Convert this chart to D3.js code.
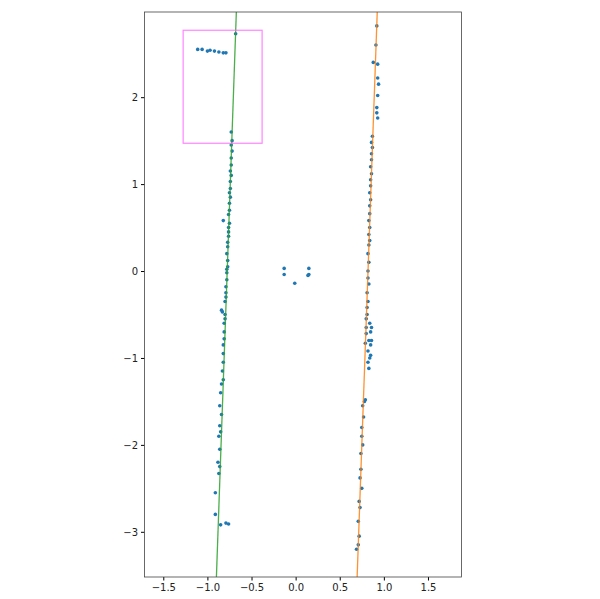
<!DOCTYPE html>
<html>
<head>
<meta charset="utf-8">
<script src="https://cdn.jsdelivr.net/npm/d3@7"></script>
<style>body{margin:0;background:#fff}text{font-family:"DejaVu Sans";font-size:10px;fill:#222}</style>
</head>
<body>
<svg id="chart" width="600" height="599"></svg>
<script>
// scatter points (x, y)
var leftX = [-1.11,-1.06,-1.00,-0.97,-0.92,-0.87,-0.82,-0.79,-0.68,
  -0.73,-0.72,-0.73,-0.72,-0.73,-0.73,-0.74,-0.73,-0.74,-0.74,-0.75,-0.74,-0.75,-0.75,-0.76,-0.82,-0.75,-0.76,-0.76,-0.76,-0.77,-0.77,-0.78,-0.77,-0.77,-0.78,-0.78,-0.78,-0.79,-0.79,-0.79,-0.84,-0.83,-0.80,-0.80,-0.80,-0.81,-0.81,-0.81,-0.82,-0.82,-0.82,-0.83,-0.82,-0.84,-0.85,-0.86,-0.84,-0.86,-0.85,-0.87,-0.86,-0.88,-0.86,-0.87,-0.91,-0.91,-0.85,-0.79,-0.76];
var leftY = [2.55,2.55,2.53,2.54,2.53,2.52,2.51,2.51,2.73,
  1.6,1.5,1.45,1.38,1.3,1.22,1.15,1.1,1.03,0.95,0.9,0.85,0.78,0.7,0.65,0.58,0.55,0.5,0.45,0.4,0.33,0.28,0.2,0.12,0.05,0.02,-0.02,-0.1,-0.18,-0.25,-0.3,-0.45,-0.47,-0.35,-0.5,-0.55,-0.6,-0.7,-0.78,-0.85,-0.95,-1.05,-1.15,-1.25,-1.3,-1.4,-1.55,-1.65,-1.78,-1.85,-1.9,-2.05,-2.2,-2.25,-2.33,-2.55,-2.8,-2.92,-2.9,-2.91,-2.94];
var midX = [-0.13,-0.13,-0.01,0.15,0.15,0.14];
var midY = [0.03,-0.04,-0.14,0.03,-0.04,-0.05];
var rightX = [0.92,0.91,0.88,0.93,0.93,0.94,0.93,0.92,0.92,0.93,
  0.87,0.86,0.87,0.86,0.86,0.85,0.86,0.85,0.85,0.84,0.85,0.84,0.84,0.83,0.84,0.83,0.84,0.83,0.82,0.83,0.82,0.82,0.83,0.81,0.82,0.81,0.81,0.80,0.80,0.80,0.79,
  0.84,0.86,0.85,0.83,0.86,0.85,0.82,0.85,0.84,0.82,0.83,
  0.79,0.78,0.76,0.77,0.75,0.75,0.76,0.74,0.74,0.73,0.75,0.72,0.73,0.71,0.72,0.71,0.69];
var rightY = [2.82,2.6,2.4,2.38,2.22,2.15,2.02,1.88,1.82,1.76,
  1.55,1.48,1.42,1.35,1.28,1.2,1.12,1.05,0.98,0.9,0.82,0.75,0.66,0.58,0.5,0.42,0.35,0.3,0.2,0.1,0.0,-0.08,-0.15,-0.25,-0.35,-0.42,-0.5,-0.55,-0.65,-0.72,-0.83,
  -0.6,-0.65,-0.7,-0.8,-0.8,-0.85,-0.92,-0.97,-1.0,-1.05,-1.12,
  -1.48,-1.5,-1.55,-1.68,-1.8,-1.9,-2.0,-2.1,-2.28,-2.38,-2.5,-2.65,-2.72,-2.88,-3.05,-3.15,-3.2];
// fitted lines: [x at bottom, y bottom, x at top, y top]
var greenLine = [[-0.898,-3.52],[-0.672,2.98]];
var orangeLine = [[0.697,-3.52],[0.925,2.98]];
var box = {x0:-1.275, x1:-0.38, y0:1.47, y1:2.77};
var xTicks = [-1.5,-1.0,-0.5,0.0,0.5,1.0,1.5];
var yTicks = [-3,-2,-1,0,1,2];

var svg = d3.select("#chart");
var x = d3.scaleLinear().domain([-1.713,1.88]).range([144.5,461.5]);
var y = d3.scaleLinear().domain([-3.52,2.98]).range([577,12]);

svg.append("g").attr("transform","translate(0,577)")
  .call(d3.axisBottom(x).tickValues(xTicks).tickFormat(d3.format(".1f")).tickSizeOuter(0).tickSize(3.5))
  .call(g=>g.selectAll("text").text(d=>d3.format(".1f")(d).replace("-","\u2212")));
svg.append("g").attr("transform","translate(144.5,0)")
  .call(d3.axisLeft(y).tickValues(yTicks).tickSizeOuter(0).tickSize(3.5))
  .call(g=>g.selectAll("text").text(d=>String(d).replace("-","\u2212")));
svg.selectAll(".domain").remove();

var clip = svg.append("clipPath").attr("id","c").append("rect")
  .attr("x",144.5).attr("y",12).attr("width",317).attr("height",565);
var plot = svg.append("g").attr("clip-path","url(#c)");
var line = d3.line().x(d=>x(d[0])).y(d=>y(d[1]));

function dots(xs, ys) {
  plot.selectAll(null).data(xs).enter().append("circle")
    .attr("cx",d=>x(d)).attr("cy",(d,i)=>y(ys[i])).attr("r",1.8).attr("fill","#1f77b4");
}
dots(leftX,leftY); dots(midX,midY); dots(rightX,rightY);
plot.append("path").attr("d",line(greenLine)).attr("stroke","#2ca02c").attr("stroke-width",1.3).attr("fill","none").attr("opacity",0.85);
plot.append("path").attr("d",line(orangeLine)).attr("stroke","#ff7f0e").attr("stroke-width",1.3).attr("fill","none").attr("opacity",0.85);
plot.append("rect").attr("x",x(box.x0)).attr("y",y(box.y1)).attr("width",x(box.x1)-x(box.x0))
  .attr("height",y(box.y0)-y(box.y1)).attr("fill","none").attr("stroke","#ff66ff").attr("stroke-width",1.2).attr("opacity",0.8);

svg.append("rect").attr("x",144.5).attr("y",12).attr("width",317).attr("height",565)
  .attr("fill","none").attr("stroke","#444").attr("stroke-width",0.8);
</script>
</body>
</html>
